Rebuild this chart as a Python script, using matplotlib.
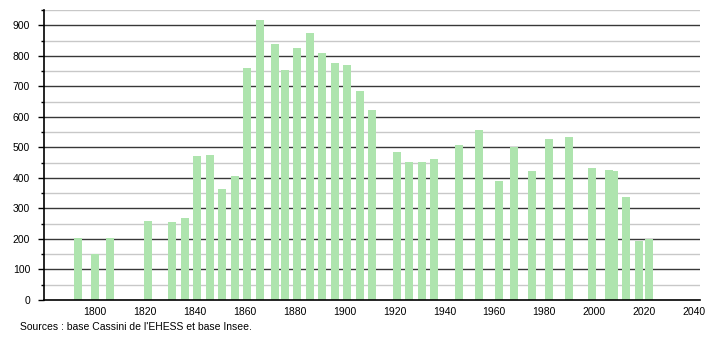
import matplotlib.pyplot as plt
import numpy as np

plt.rcParams['font.family'] = ['Liberation Sans', 'DejaVu Sans']

annees = [1793, 1800, 1806, 1821, 1831, 1836, 1841, 1846, 1851, 1856,
          1861, 1866, 1872, 1876, 1881, 1886, 1891, 1896, 1901, 1906,
          1911, 1921, 1926, 1931, 1936, 1946, 1954, 1962, 1968, 1975,
          1982, 1990, 1999, 2006, 2008, 2013, 2018, 2022]
population = [204, 151, 203, 260, 255, 268, 471, 476, 364, 405,
              761, 917, 838, 752, 827, 874, 810, 775, 769, 684,
              621, 486, 452, 453, 462, 509, 556, 389, 500, 422,
              526, 534, 432, 427, 424, 337, 194, 200]

graduations_x = list(range(1800, 2041, 20))
graduations_y = list(range(0, 901, 100))

fig = plt.figure(figsize=(7.1, 3.4), dpi=100)
ax = fig.add_axes([0.062, 0.1176, 0.924, 0.853])

# grille : traits fonces aux centaines, clairs aux cinquantaines
for v in range(50, 951, 100):
    ax.axhline(v, color='#c8c8c8', lw=1.0, zorder=1)
for v in graduations_y[1:]:
    ax.axhline(v, color='#383838', lw=1.0, zorder=1)

ax.bar(annees, population, width=3.2, color='#aee4ae', zorder=2)

ax.set_xlim(1779.5, 2042.5)
ax.set_ylim(0, 950)
ax.set_xticks(graduations_x)
ax.set_yticks(graduations_y)
ax.set_yticks(range(50, 951, 100), minor=True)
ax.tick_params(axis='x', length=0, labelsize=7.5, pad=5)
ax.tick_params(axis='y', which='major', length=4, width=1, labelsize=7.5, pad=6)
ax.tick_params(axis='y', which='minor', length=2, width=1)

for s in ['top', 'right']:
    ax.spines[s].set_visible(False)
ax.spines['left'].set_linewidth(1.2)
ax.spines['bottom'].set_linewidth(1.2)

fig.text(0.028, 0.038, "Sources : base Cassini de l'EHESS et base Insee.",
         fontsize=7.5, va='center')

fig.savefig('out.png', dpi=100)
